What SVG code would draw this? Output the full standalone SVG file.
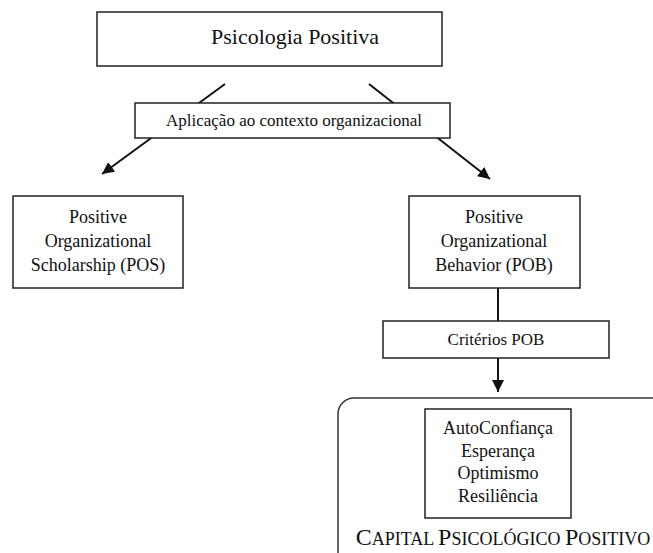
<svg xmlns="http://www.w3.org/2000/svg" width="653" height="553" viewBox="0 0 653 553">
<defs>
<style>
.box{fill:#fff;stroke:#222;stroke-width:1.5}
.t{font-family:'Liberation Serif','DejaVu Serif',serif;fill:#111;text-anchor:middle}
.ln{stroke:#111;stroke-width:2;fill:none}
</style>
<marker id="ah" viewBox="0 0 10 10" refX="10" refY="5" markerWidth="6" markerHeight="6" markerUnits="strokeWidth" orient="auto">
<path d="M0,0 L10,5 L0,10 z" fill="#111"/>
</marker>
</defs>
<rect width="653" height="553" fill="#fff"/>
<g id="connectors">
<line class="ln" x1="225" y1="84" x2="102" y2="174" marker-end="url(#ah)"/>
<line class="ln" x1="369" y1="84" x2="490" y2="179" marker-end="url(#ah)"/>
<line class="ln" x1="498" y1="288" x2="498" y2="321"/>
<line class="ln" x1="498" y1="358" x2="498" y2="392" marker-end="url(#ah)"/>
</g>
<g id="psicologia">
<rect class="box" x="97" y="12" width="345" height="54"/>
<text class="t" x="295" y="44" font-size="22">Psicologia Positiva</text>
</g>
<g id="aplicacao">
<rect class="box" x="135" y="103" width="315" height="35"/>
<text class="t" x="294" y="126" font-size="17">Aplicação ao contexto organizacional</text>
</g>
<g id="pos">
<rect class="box" x="13" y="196" width="170" height="92"/>
<text class="t" font-size="18"><tspan x="98" y="223">Positive</tspan><tspan x="98" y="247">Organizational</tspan><tspan x="98" y="271">Scholarship (POS)</tspan></text>
</g>
<g id="pob">
<rect class="box" x="409" y="196" width="171" height="92"/>
<text class="t" font-size="18"><tspan x="494" y="223">Positive</tspan><tspan x="494" y="247">Organizational</tspan><tspan x="494" y="271">Behavior (POB)</tspan></text>
</g>
<g id="criterios">
<rect class="box" x="383" y="321" width="226" height="37"/>
<text class="t" x="496" y="345" font-size="17">Critérios POB</text>
</g>
<g id="capital">
<rect x="338" y="398" width="340" height="170" rx="16" ry="16" fill="none" stroke="#333" stroke-width="1.5"/>
<rect class="box" x="425" y="409" width="146" height="109"/>
<text class="t" font-size="18"><tspan x="498" y="434">AutoConfiança</tspan><tspan x="498" y="457">Esperança</tspan><tspan x="498" y="479">Optimismo</tspan><tspan x="498" y="502">Resiliência</tspan></text>
<text class="t" x="503" y="545" font-size="18"><tspan font-size="24">C</tspan>APITAL <tspan font-size="24">P</tspan>SICOLÓGICO <tspan font-size="24">P</tspan>OSITIVO</text>
</g>
</svg>
